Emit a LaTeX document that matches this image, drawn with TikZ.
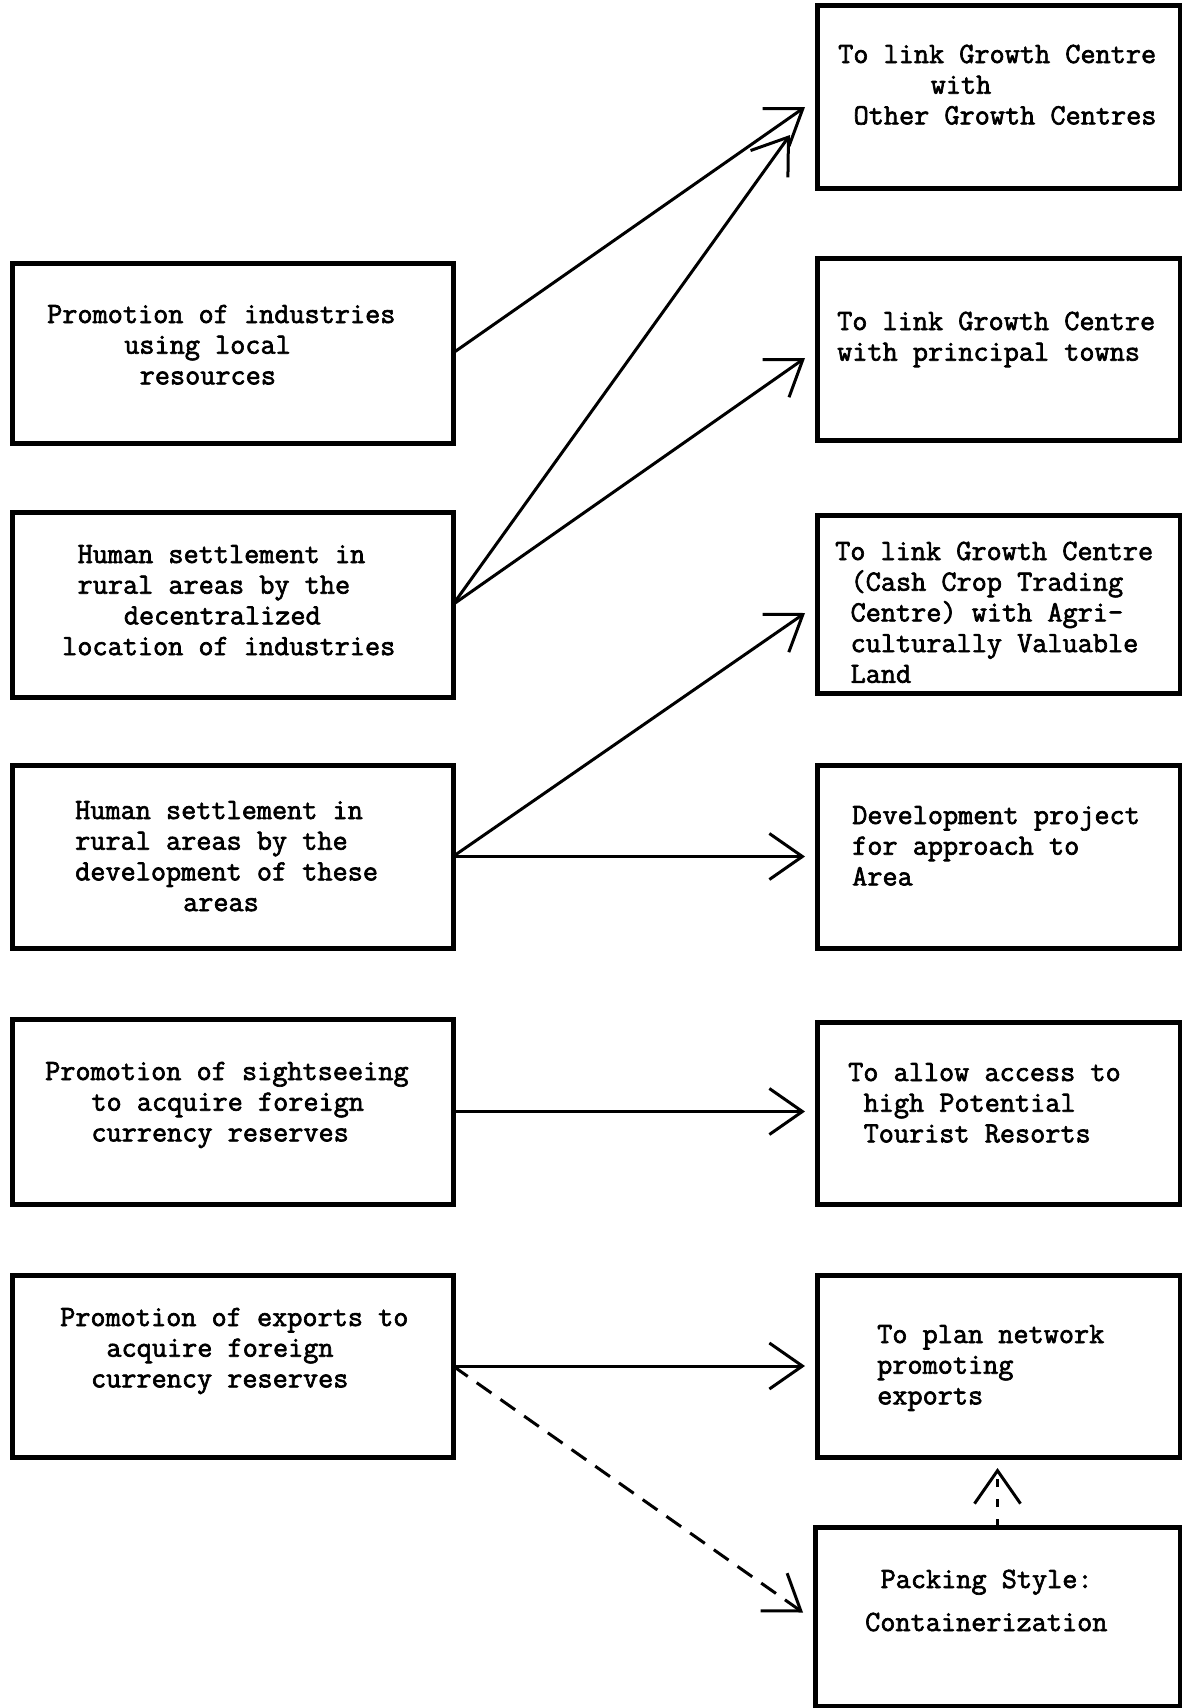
\documentclass[tikz,border=0pt]{standalone}
\usepackage{fontspec}
\newfontfamily\tyfont{Latin Modern Mono}[FakeBold=2.2]
\usetikzlibrary{arrows.meta}
\newlength{\chw}
\setlength{\chw}{15.42pt}
\newcommand{\ind}[1]{\hspace*{#1\chw}}
\begin{document}
\begin{tikzpicture}[x=1pt,y=-1pt,
  box/.style={draw, line width=5pt, rectangle, inner sep=0pt, outer sep=0pt},
  txt/.style={font=\tyfont\fontsize{29.4pt}{30.7pt}\selectfont, align=left, anchor=base west, inner sep=0pt},
  arr/.style={line width=3pt, -{Straight Barb[length=33pt,width=46pt]}},
  darr/.style={arr, dash pattern=on 18pt off 11pt},
  sdarr/.style={arr, dash pattern=on 8pt off 12pt}]
\useasboundingbox[fill=white] (0,0) rectangle (1181,1708);
% left boxes
\node[box, minimum width=441pt, minimum height=180pt] (b1) at (232.5,353) {};
\node[box, minimum width=441pt, minimum height=185pt] (b2) at (232.5,604.5) {};
\node[box, minimum width=441pt, minimum height=183pt] (b3) at (232.5,856.5) {};
\node[box, minimum width=441pt, minimum height=185pt] (b4) at (232.5,1111.5) {};
\node[box, minimum width=441pt, minimum height=182pt] (b5) at (232.5,1366) {};
% right boxes
\node[box, minimum width=363pt, minimum height=183pt] (r1) at (998.5,96.5) {};
\node[box, minimum width=363pt, minimum height=182pt] (r2) at (998.5,349) {};
\node[box, minimum width=363pt, minimum height=178pt] (r3) at (998.5,604) {};
\node[box, minimum width=363pt, minimum height=183pt] (r4) at (998.5,856.5) {};
\node[box, minimum width=363pt, minimum height=182pt] (r5) at (998.5,1113) {};
\node[box, minimum width=363pt, minimum height=182pt] (r6) at (998.5,1366) {};
\node[box, minimum width=365pt, minimum height=179pt] (r7) at (997.5,1616.5) {};
% left texts (anchor = baseline of last line)
\node[txt] (tb1) at (47,384.4) {Promotion of industries\\\ind{5}using local\\\ind{6}resources};
\node[txt] (tb2) at (62,655.1) {\ind{1}Human settlement in\\\ind{1}rural areas by the\\\ind{4}decentralized\\location of industries};
\node[txt] (tb3) at (75,911.1) {Human settlement in\\rural areas by the\\development of these\\\ind{7}areas};
\node[txt] (tb4) at (45,1141.4) {Promotion of sightseeing\\\ind{3}to acquire foreign\\\ind{3}currency reserves};
\node[txt] (tb5) at (60,1387.4) {Promotion of exports to\\\ind{3}acquire foreign\\\ind{2}currency reserves};
% right texts
\node[txt] (tr1) at (838,124.4) {To link Growth Centre\\\ind{6}with\\\ind{1}Other Growth Centres};
\node[txt] (tr2) at (837,360.7) {To link Growth Centre\\with principal towns};
\node[txt] (tr3) at (835,682.8) {To link Growth Centre\\\ind{1}(Cash Crop Trading\\\ind{1}Centre) with Agri-\\\ind{1}culturally Valuable\\\ind{1}Land};
\node[txt] (tr4) at (852,885.4) {Development project\\for approach to\\Area};
\node[txt] (tr5) at (848,1142.4) {To allow access to\\\ind{1}high Potential\\\ind{1}Tourist Resorts};
\node[txt] (tr6) at (877,1404.4) {To plan network\\promoting\\exports};
\node[txt] (tr7) at (865,1631) {\ind{1}Packing Style:\\[12.3pt]Containerization};
% connectors
\draw[arr] (b1.east) -- ([xshift=-12pt,yshift=-10.5pt]r1.west);
\draw[arr] (b2.east) -- ([xshift=-27pt,yshift=-38.5pt]r1.west);
\draw[arr] (b2.east) -- ([xshift=-12pt,yshift=-9pt]r2.west);
\draw[arr] (b3.east) -- ([xshift=-12pt,yshift=-9pt]r3.west);
\draw[arr, shorten >=12pt] (b3.east) -- (b3.east -| r4.west);
\draw[arr, shorten >=12pt] (b4.east) -- (b4.east -| r5.west);
\draw[arr, shorten >=12pt] (b5.east) -- (b5.east -| r6.west);
\draw[darr] (b5.east) -- ([xshift=-12pt,yshift=4pt]r7.west);
\draw[sdarr, shorten >=11pt] (r7.north) -- (r7.north |- r6.south);
\end{tikzpicture}
\end{document}
